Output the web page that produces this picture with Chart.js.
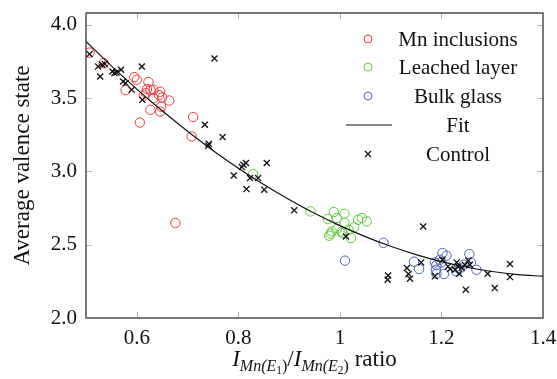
<!DOCTYPE html>
<html>
<head>
<meta charset="utf-8">
<script src="https://cdn.jsdelivr.net/npm/chart.js@4"></script>
<style>
  html, body { margin: 0; padding: 0; background: #fff; }
  #wrap { width: 557px; height: 379px; }
</style>
</head>
<body>
<div id="wrap"><canvas id="chart1" width="557" height="379"></canvas></div>
<script>
// values
const redX = [0.507,0.535,0.595,0.600,0.623,0.578,0.620,0.627,0.633,0.646,0.618,0.644,0.614,0.633,0.650,0.664,0.648,0.627,0.646,0.606,0.711,0.708,0.676];
const redY = [3.810,3.738,3.643,3.624,3.609,3.554,3.561,3.556,3.556,3.543,3.534,3.520,3.517,3.500,3.504,3.483,3.442,3.420,3.408,3.333,3.370,3.238,2.648];

const greenX = [0.829,0.942,0.988,1.009,0.976,0.994,1.009,1.036,1.043,1.053,1.028,0.994,1.004,0.984,0.979,0.982,1.017,1.022,1.005];
const greenY = [2.982,2.727,2.723,2.711,2.675,2.682,2.648,2.670,2.682,2.659,2.618,2.607,2.590,2.590,2.561,2.575,2.602,2.545,2.579];

const blueX = [1.010,1.086,1.146,1.156,1.187,1.190,1.189,1.190,1.197,1.202,1.200,1.229,1.235,1.244,1.255,1.258,1.269,1.205,1.210];
const blueY = [2.391,2.513,2.384,2.334,2.379,2.361,2.329,2.302,2.397,2.443,2.379,2.318,2.334,2.363,2.436,2.379,2.329,2.300,2.425];

const ctrlX = [0.507,0.524,0.532,0.537,0.528,0.552,0.556,0.560,0.569,0.610,0.573,0.578,0.590,0.611,0.753,0.734,0.769,0.742,0.741,0.810,0.815,0.807,0.856,0.791,0.823,0.839,0.816,0.851,0.910,1.012,1.164,1.160,1.132,1.135,1.138,1.095,1.094,1.187,1.202,1.213,1.217,1.230,1.233,1.240,1.235,1.246,1.253,1.256,1.248,1.291,1.305,1.335,1.335,1.227];
const ctrlY = [3.800,3.715,3.727,3.733,3.647,3.681,3.670,3.674,3.693,3.715,3.613,3.602,3.556,3.488,3.770,3.318,3.234,3.188,3.175,3.045,3.057,3.029,3.057,2.972,2.954,2.954,2.879,2.875,2.734,2.556,2.624,2.379,2.341,2.300,2.268,2.290,2.261,2.284,2.397,2.352,2.334,2.379,2.352,2.341,2.302,2.363,2.391,2.363,2.193,2.302,2.204,2.368,2.279,2.329];

const fitX = [0.50,0.55,0.60,0.65,0.70,0.75,0.80,0.85,0.90,0.95,1.00,1.05,1.10,1.15,1.20,1.25,1.30,1.35,1.40];
const fitY = [3.886,3.719,3.561,3.413,3.274,3.143,3.022,2.910,2.808,2.714,2.630,2.555,2.489,2.432,2.384,2.346,2.317,2.296,2.285];

const xTicks = [0.6, 0.8, 1.0, 1.2, 1.4];
const yTicks = [2.0, 2.5, 3.0, 3.5, 4.0];
const legendNames = ['Mn inclusions', 'Leached layer', 'Bulk glass', 'Fit', 'Control'];

const serif = "'Liberation Serif', 'DejaVu Serif', serif";
const red = '#ee3b3b';
const green = '#5cc83a';
const blue = '#4a64b8';

let pts = (xs, ys) => xs.map((v, i) => ({ x: v, y: ys[i] }));

// frame, inward ticks, legend and the x label with subscripts
const decor = {
    id: 'decor',
    afterDraw(chart) {
        const c = chart.ctx;
        const a = chart.chartArea;
        const sx = chart.scales.x, sy = chart.scales.y;
        c.save();
        c.strokeStyle = '#b8b8b8';
        c.lineWidth = 1;
        xTicks.forEach(v => {
            if (v >= 1.4) return;
            const p = Math.round(sx.getPixelForValue(v)) + 0.5;
            c.beginPath();
            c.moveTo(p, a.bottom); c.lineTo(p, a.bottom - 6);
            c.moveTo(p, a.top); c.lineTo(p, a.top + 6);
            c.stroke();
        });
        yTicks.forEach(v => {
            if (v <= 2.0) return;
            const p = Math.round(sy.getPixelForValue(v)) + 0.5;
            c.beginPath();
            c.moveTo(a.left, p); c.lineTo(a.left + 6, p);
            c.moveTo(a.right, p); c.lineTo(a.right - 6, p);
            c.stroke();
        });
        c.strokeStyle = '#333';
        c.lineWidth = 1.3;
        c.strokeRect(a.left, a.top, a.right - a.left, a.bottom - a.top);

        // legend
        const mx = 368, tx = 458, rows = [39, 67, 96, 125, 154];
        c.font = '21px ' + serif;
        c.fillStyle = '#111';
        c.textAlign = 'center';
        c.textBaseline = 'middle';
        legendNames.forEach((n, i) => {
            const y = rows[i];
            c.lineWidth = 1;
            if (i < 3) {
                c.strokeStyle = [red, green, blue][i];
                c.beginPath(); c.arc(mx, y, 4, 0, Math.PI * 2); c.stroke();
            } else if (i === 3) {
                c.strokeStyle = '#111'; c.lineWidth = 1.2;
                c.beginPath(); c.moveTo(346, y); c.lineTo(392, y); c.stroke();
            } else {
                c.strokeStyle = '#111'; c.lineWidth = 1.3;
                c.beginPath();
                c.moveTo(mx - 3, y - 3); c.lineTo(mx + 3, y + 3);
                c.moveTo(mx - 3, y + 3); c.lineTo(mx + 3, y - 3);
                c.stroke();
            }
            c.fillText(n, tx, y + 1);
        });

        // x axis label
        const S = 23, s1 = 16, s2 = 11.5;
        const parts = [
            ['I', 'italic', S, 0], ['Mn(E', 'italic', s1, 5], ['1', 'normal', s2, 8], [')', 'normal', s1, 5],
            ['/', 'normal', S, 0],
            ['I', 'italic', S, 0], ['Mn(E', 'italic', s1, 5], ['2', 'normal', s2, 8], [')', 'normal', s1, 5],
            [' ratio', 'normal', S, 0]
        ];
        c.textAlign = 'left';
        c.textBaseline = 'alphabetic';
        let w = 0;
        parts.forEach(p => { c.font = p[1] + ' ' + p[2] + 'px ' + serif; w += c.measureText(p[0]).width; });
        let x = (a.left + a.right) / 2 - w / 2;
        const base = 366;
        parts.forEach(p => {
            c.font = p[1] + ' ' + p[2] + 'px ' + serif;
            c.fillText(p[0], x, base + p[3]);
            x += c.measureText(p[0]).width;
        });
        c.restore();
    }
};

new Chart(document.getElementById('chart1').getContext('2d'), {
    type: 'scatter',
    data: {
        datasets: [{
            label: legendNames[0],
            data: pts(redX, redY),
            borderColor: red,
            backgroundColor: 'transparent',
            pointRadius: 4.7,
            borderWidth: 1,
            order: 3
        }, {
            label: legendNames[1],
            data: pts(greenX, greenY),
            borderColor: green,
            backgroundColor: 'transparent',
            pointRadius: 4.7,
            borderWidth: 1,
            order: 3
        }, {
            label: legendNames[2],
            data: pts(blueX, blueY),
            borderColor: blue,
            backgroundColor: 'transparent',
            pointRadius: 4.7,
            borderWidth: 1,
            order: 3
        }, {
            type: 'line',
            label: legendNames[3],
            data: pts(fitX, fitY),
            borderColor: '#111',
            borderWidth: 1.2,
            pointRadius: 0,
            fill: false,
            tension: 0.4,
            cubicInterpolationMode: 'monotone',
            order: 2
        }, {
            label: legendNames[4],
            data: pts(ctrlX, ctrlY),
            pointStyle: 'crossRot',
            borderColor: '#111',
            pointRadius: 4.3,
            borderWidth: 1.3,
            order: 1
        }]
    },
    options: {
        responsive: false,
        animation: false,
        devicePixelRatio: 1,
        layout: { padding: { left: 0, right: 14, top: 13, bottom: 0 } },
        plugins: { legend: { display: false }, tooltip: { enabled: false } },
        scales: {
            x: {
                type: 'linear',
                min: 0.5, max: 1.4,
                afterBuildTicks: (s) => { s.ticks = xTicks.map(v => ({ value: v })); },
                afterFit: (s) => { s.height = 61; s.paddingLeft = 0; s.paddingRight = 0; },
                grid: { display: false, drawTicks: false },
                border: { display: false },
                ticks: {
                    padding: 8,
                    color: '#111',
                    font: { family: serif, size: 21 },
                    callback: (v) => (v === 1 ? '1' : String(Math.round(v * 10) / 10))
                }
            },
            y: {
                type: 'linear',
                min: 2.0, max: 4.08,
                afterBuildTicks: (s) => { s.ticks = yTicks.map(v => ({ value: v })); },
                afterFit: (s) => { s.width = 86; s.paddingTop = 0; s.paddingBottom = 0; },
                grid: { display: false, drawTicks: false },
                border: { display: false },
                title: {
                    display: true,
                    text: 'Average valence state',
                    color: '#111',
                    font: { family: serif, size: 23 },
                    padding: { top: 9, bottom: 0 }
                },
                ticks: {
                    padding: 9,
                    color: '#111',
                    font: { family: serif, size: 21 },
                    callback: (v) => v.toFixed(1)
                }
            }
        }
    },
    plugins: [decor]
});
</script>
</body>
</html>
